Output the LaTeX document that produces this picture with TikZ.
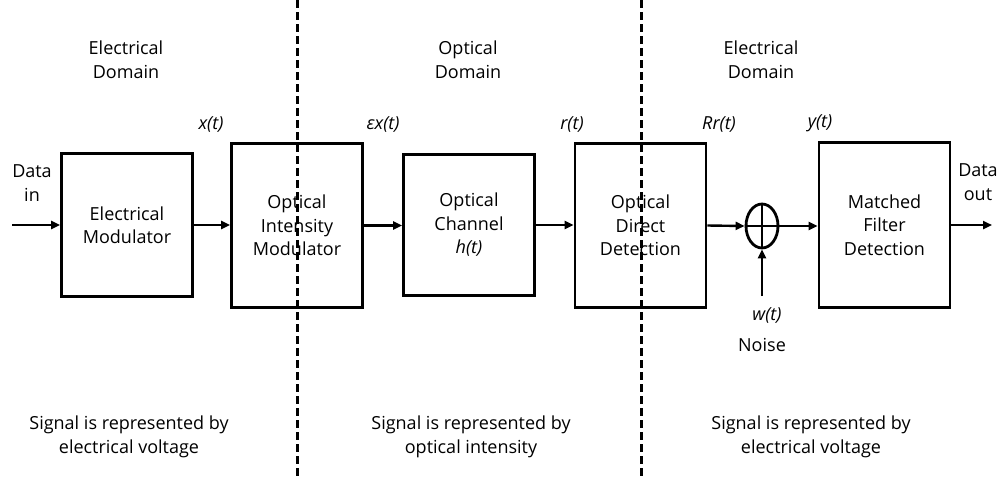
\documentclass[tikz,border=0pt]{standalone}
\usepackage{fontspec}
\setmainfont{Open Sans}
\usetikzlibrary{arrows.meta,shapes.geometric}
\begin{document}
\begin{tikzpicture}[x=1pt,y=-1pt,
  block/.style={draw,line width=2.8pt,align=center,inner sep=0pt,
    font=\fontsize{18}{23.5}\selectfont},
  lbl/.style={align=center,inner sep=0pt,font=\fontsize{18}{24}\selectfont},
  sig/.style={inner sep=0pt,font=\fontsize{18}{23}\selectfont\itshape},
  flow/.style={line width=2.4pt,-{Triangle[length=9pt,width=8pt]}},
  divider/.style={line width=3pt,dash pattern=on 8pt off 4pt}]
\useasboundingbox (0,0) rectangle (1003,477);

% domain dividers
\coordinate (d1t) at (297,0);   \coordinate (d1b) at (297,477);
\coordinate (d2t) at (641,0);   \coordinate (d2b) at (641,477);
\draw[divider] (d1t) -- (d1b);
\draw[divider] (d2t) -- (d2b);

% processing blocks
\node[block,minimum width=131pt,minimum height=143pt] (em)  at (127,225)   {Electrical\\Modulator};
\node[block,minimum width=131pt,minimum height=164pt] (oim) at (297,225.5) {Optical\\Intensity\\Modulator};
\node[block,minimum width=131pt,minimum height=141pt] (ch)  at (469,225)   {Optical\\Channel\\\textit{h(t)}};
\node[block,minimum width=131pt,minimum height=164pt] (odd) at (640.5,225.5) {Optical\\Direct\\Detection};
\node[block,minimum width=131pt,minimum height=165pt] (mf)  at (884.5,225) {Matched\\Filter\\Detection};

% adder
\node[draw,ellipse,line width=2.8pt,minimum width=32pt,minimum height=44pt,inner sep=0pt] (sum) at (762,226) {};
\draw[line width=2.4pt] (sum.north) -- (sum.south);
\draw[line width=2.4pt] (sum.west) -- (sum.east);

% signal flow
\coordinate (din) at (12,225);
\coordinate (dout) at (992,225);
\coordinate (nz) at (762,296);
\draw[flow] (din) -- (em.west);
\draw[flow] (em.east) -- (em.east -| oim.west);
\draw[flow] (oim.east) -- (oim.east -| ch.west);
\draw[flow] (ch.east) -- (ch.east -| odd.west);
\draw[flow] (odd.east) -- (sum.west);
\draw[flow] (sum.east) -- (sum.east -| mf.west);
\draw[flow] (mf.east) -- (dout);
\draw[flow] (nz) -- (sum.south);

% signal names
\node[sig] (sx)  at (211,124) {x(t)};
\node[sig] (sex) at (383,124) {εx(t)};
\node[sig] (sr)  at (572,124) {r(t)};
\node[sig] (srr) at (719,124) {Rr(t)};
\node[sig] (sy)  at (820,123) {y(t)};
\node[sig] (sw)  at (767,315) {w(t)};
\node[lbl] (noise) at (762,345) {Noise};

% inputs and outputs
\node[lbl] (datain)  at (32,183)  {Data\\in};
\node[lbl] (dataout) at (978,182) {Data\\out};

% domain headings
\node[lbl] (h1) at (126,60) {Electrical\\Domain};
\node[lbl] (h2) at (468,60) {Optical\\Domain};
\node[lbl] (h3) at (761,60) {Electrical\\Domain};

% domain notes
\node[lbl] (n1) at (129,437) {Signal is represented by\\electrical voltage};
\node[lbl] (n2) at (471,437) {Signal is represented by\\optical intensity};
\node[lbl] (n3) at (811,437) {Signal is represented by\\electrical voltage};
\end{tikzpicture}
\end{document}
